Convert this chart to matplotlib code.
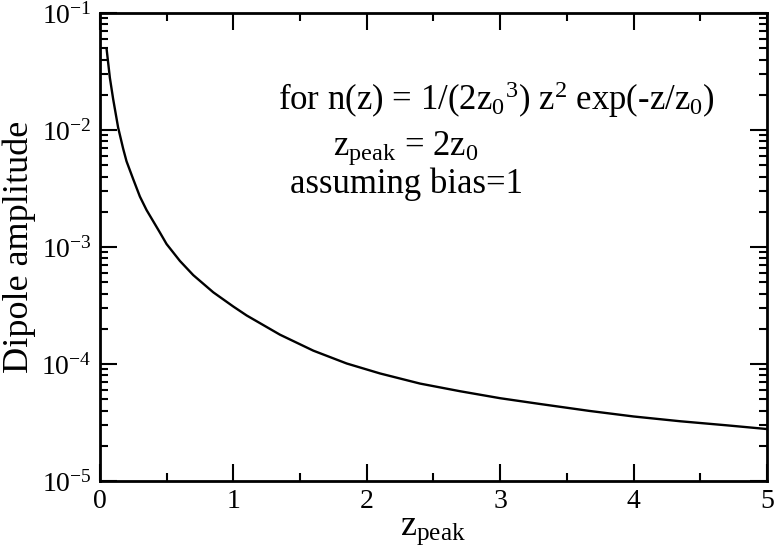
import matplotlib
matplotlib.use('Agg')
import matplotlib.pyplot as plt
from matplotlib.ticker import LogLocator, MultipleLocator, NullFormatter

plt.rcParams['font.family'] = ['Liberation Serif', 'DejaVu Serif']
plt.rcParams['mathtext.fontset'] = 'custom'
plt.rcParams['mathtext.rm'] = 'Liberation Serif'
plt.rcParams['mathtext.it'] = 'Liberation Serif'

# curve
z_peak = [0.05, 0.075, 0.10, 0.137, 0.175, 0.2, 0.25, 0.3, 0.35, 0.45, 0.5,
          0.6, 0.7, 0.85, 1.0, 1.1, 1.35, 1.6, 1.85, 2.1, 2.4, 2.7, 3.0,
          3.3, 3.67, 4.0, 4.35, 4.7, 5.0]
dipole = [5.0e-2, 2.8e-2, 1.83e-2, 1.05e-2, 6.9e-3, 5.4e-3, 3.8e-3, 2.7e-3,
          2.07e-3, 1.33e-3, 1.06e-3, 7.6e-4, 5.75e-4, 4.1e-4, 3.1e-4,
          2.6e-4, 1.78e-4, 1.3e-4, 1.01e-4, 8.3e-5, 6.8e-5, 5.85e-5, 5.1e-5,
          4.55e-5, 3.97e-5, 3.56e-5, 3.24e-5, 2.99e-5, 2.78e-5]

y_ticks = [1e-5, 1e-4, 1e-3, 1e-2, 1e-1]
y_ticklabels = [r'$\mathregular{10^{-5}}$', r'$\mathregular{10^{-4}}$',
                r'$\mathregular{10^{-3}}$', r'$\mathregular{10^{-2}}$',
                r'$\mathregular{10^{-1}}$']

fig = plt.figure(figsize=(7.74, 5.58), dpi=100)
ax = fig.add_axes([0.129, 0.138, 0.862, 0.8387])

ax.plot(z_peak, dipole, color='black', lw=1.7)

ax.set_yscale('log')
ax.set_xlim(0, 5)
ax.set_ylim(1e-5, 1e-1)
ax.set_yticks(y_ticks)
ax.set_yticklabels(y_ticklabels)
ax.yaxis.set_minor_locator(LogLocator(base=10, subs=range(2, 10)))
ax.yaxis.set_minor_formatter(NullFormatter())
ax.xaxis.set_major_locator(MultipleLocator(1))
ax.xaxis.set_minor_locator(MultipleLocator(0.5))

ax.tick_params(which='both', direction='in', top=True, right=True, width=1.5)
ax.tick_params(which='major', length=12, labelsize=20, pad=6)
ax.tick_params(which='minor', length=6)
for s in ax.spines.values():
    s.set_linewidth(2)

ax.set_xlabel(r'z$\mathregular{_{peak}}$', fontsize=26, labelpad=0)
ax.set_ylabel('Dipole amplitude', fontsize=26, labelpad=4)

ax.text(0.267, 0.793, r'for n(z) = 1/(2z$\mathregular{_0}$$\mathregular{^3}$) z$\mathregular{^2}$ exp(-z/z$\mathregular{_0}$)',
        transform=ax.transAxes, fontsize=25, va='baseline', ha='left')
ax.text(0.35, 0.697, r'z$\mathregular{_{peak}}$ = 2z$\mathregular{_0}$',
        transform=ax.transAxes, fontsize=25, va='baseline', ha='left')
ax.text(0.285, 0.615, 'assuming bias=1',
        transform=ax.transAxes, fontsize=25, va='baseline', ha='left')

fig.savefig('out.png', dpi=100)
